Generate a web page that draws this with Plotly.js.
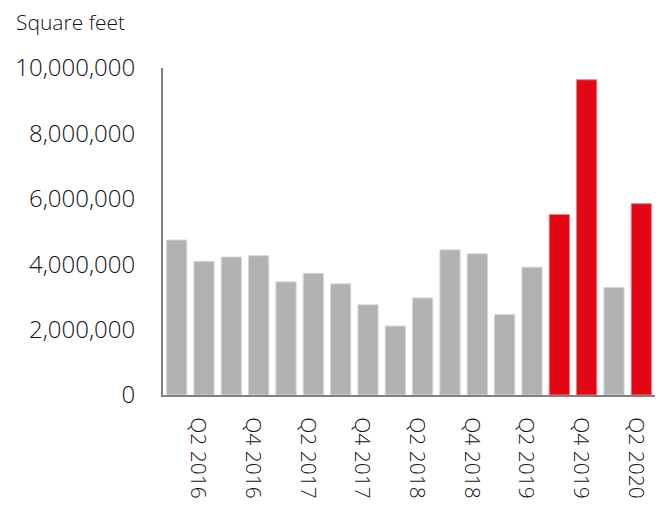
<!DOCTYPE html>
<html>
<head>
<meta charset="utf-8">
<script src="https://cdn.plot.ly/plotly-3.0.1.min.js"></script>
<style>html,body{margin:0;padding:0;background:#fff;}#chart{width:661px;height:506px;}</style>
</head>
<body>
<div id="chart"></div>
<script>
const quarters = ["Q1 2016","Q2 2016","Q3 2016","Q4 2016","Q1 2017","Q2 2017","Q3 2017","Q4 2017",
  "Q1 2018","Q2 2018","Q3 2018","Q4 2018","Q1 2019","Q2 2019","Q3 2019","Q4 2019","Q1 2020","Q2 2020"];
const squareFeet = [4740000,4090000,4220000,4260000,3460000,3720000,3400000,2760000,
  2110000,2970000,4440000,4320000,2460000,3910000,5520000,9640000,3290000,5850000];
const highlighted = [false,false,false,false,false,false,false,false,false,false,false,false,false,false,true,true,false,true];
const tickLabels = ["Q2 2016","Q4 2016","Q2 2017","Q4 2017","Q2 2018","Q4 2018","Q2 2019","Q4 2019","Q2 2020"];
const yTicks = [0,2000000,4000000,6000000,8000000,10000000];

const GRAY = "#b1b2b4", RED = "#e30613";
const FONT = "Open Sans";
const TXT = "#111";

const trace = {
  type: "bar",
  x: quarters,
  y: squareFeet,
  width: 0.74,
  marker: {
    color: highlighted.map(h => h ? RED : GRAY),
    line: {color: highlighted.map(h => h ? "#f07a80" : "#d6d7d8"), width: 1}
  },
  hoverinfo: "skip"
};

const layout = {
  width: 661, height: 506,
  margin: {l: 163, r: 6, t: 68, b: 111},
  paper_bgcolor: "#fff", plot_bgcolor: "#fff",
  showlegend: false,
  separators: ".,",
  font: {family: FONT, color: TXT, size: 22, weight: 300},
  xaxis: {
    type: "category",
    categoryorder: "array", categoryarray: quarters,
    tickmode: "array", tickvals: tickLabels, ticktext: tickLabels,
    tickangle: 90,
    ticks: "", showgrid: false, zeroline: false,
    showline: true, linecolor: "#808080", linewidth: 2,
    tickfont: {family: FONT, size: 21, color: TXT, weight: 300},
    ticklabelstandoff: 16,
    ticklabelshift: -6,
    range: [-0.5, 17.5]
  },
  yaxis: {
    range: [0, 10000000],
    tickmode: "array", tickvals: yTicks,
    tickformat: ",d",
    ticks: "", showgrid: false, zeroline: false,
    showline: true, linecolor: "#808080", linewidth: 2,
    tickfont: {family: FONT, size: 24, color: TXT, weight: 300},
    ticklabelstandoff: 21
  },
  annotations: [{
    text: "Square feet", xref: "paper", yref: "paper",
    x: 0, xshift: -149, y: 1, yshift: 46,
    xanchor: "left", yanchor: "middle", showarrow: false,
    font: {family: FONT, size: 21, color: TXT, weight: 300}
  }]
};

Plotly.newPlot("chart", [trace], layout, {displayModeBar: false, staticPlot: true});
</script>
</body>
</html>
